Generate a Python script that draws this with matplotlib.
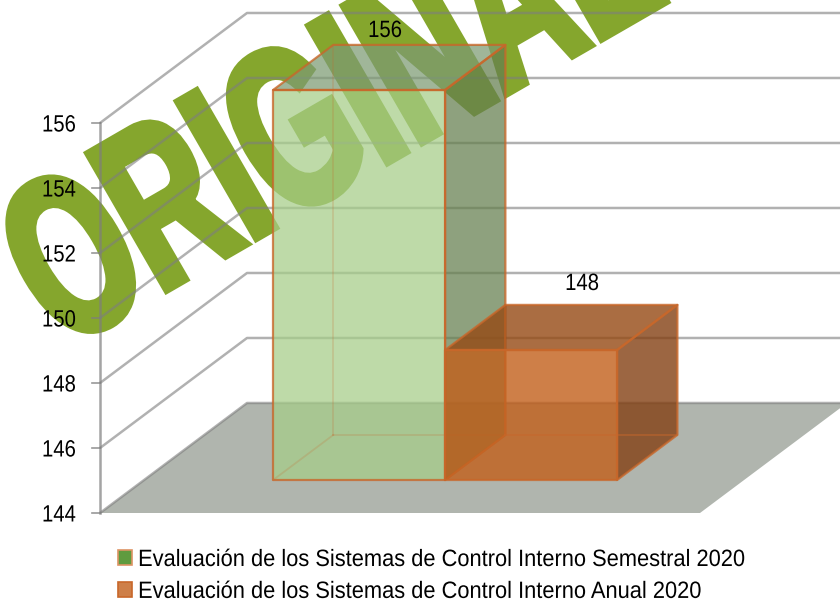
#!/usr/bin/env python3
# -*- coding: utf-8 -*-
import matplotlib
matplotlib.use('Agg')
import matplotlib.pyplot as plt
from matplotlib.patches import Polygon, Patch
from matplotlib.patheffects import AbstractPathEffect
from matplotlib.transforms import Affine2D

## datos
valores = [156, 148]
series = ['Evaluación de los Sistemas de Control Interno Semestral 2020',
          'Evaluación de los Sistemas de Control Interno Anual 2020']
ticks = [144, 146, 148, 150, 152, 154, 156]
marca = 'ORIGINAL'

## colores (frente, lado, arriba)
col_verde = ('#A6CD88', '#657F4E', '#7D9B74')
col_naranja = ('#C25F1A', '#834013', '#954913')
alfa = [0.73, 0.8]
col_borde = '#C8672A'
col_grid = '#7E7E7E'

## "perspectiva" : 600 px par unite en x, 32.5 px par unite en y
dx_fondo = 0.245
dv_fondo = 3.385
y_base = 144
prof = (0.30, 0.71)
ancho = 0.2867
x_ini = 0.215


class Encoger(AbstractPathEffect):
    # texto mas estrecho, con trazo opcional
    def __init__(self, sx, lw=0):
        super().__init__()
        self.sx = sx
        self.lw = lw

    def draw_path(self, renderer, gc, tpath, affine, rgbFace=None):
        gc2 = renderer.new_gc()
        gc2.copy_properties(gc)
        gc2.set_linewidth(self.lw)
        gc2.set_joinstyle('miter')
        if rgbFace is not None:
            gc2.set_foreground(rgbFace)
        renderer.draw_path(gc2, tpath, Affine2D().scale(self.sx, 1) + affine, rgbFace)
        gc2.restore()


def proy(x, v, d):
    return (x + d * dx_fondo, v + d * dv_fondo)


plt.rcParams['font.family'] = ['Liberation Sans', 'DejaVu Sans']

fig = plt.figure(figsize=(8.4, 6.02), dpi=100)
ax = fig.add_axes([0, 0, 1, 1])
ax.set_xlim(-100 / 600, 740 / 600)
ax.set_ylim(144 - 89 / 32.5, 144 + 513 / 32.5)
ax.axis('off')

## marca de agua
fig.text(62 / 840, 1 - 350 / 602, marca, fontsize=164, fontweight='bold', color='#85A62D',
         rotation=30, rotation_mode='anchor', ha='left', va='baseline', zorder=-1,
         path_effects=[Encoger(0.63, 6)])

## suelo
ax.add_patch(Polygon([proy(0, y_base, 0), proy(1, y_base, 0), proy(1, y_base, 1), proy(0, y_base, 1)],
                     closed=True, fc='#B0B5AE', ec='none', zorder=1))

## rejilla
for t in ticks:
    xs = [0, dx_fondo, 1 + dx_fondo]
    ys = [t, t + dv_fondo, t + dv_fondo]
    ax.plot(xs, ys, color=col_grid, alpha=0.6, lw=1.8, zorder=2, solid_capstyle='butt')
    ax.plot([-8 / 600, 0], [t, t], color=col_grid, alpha=0.8, lw=1.2, zorder=2)
    ax.text(-58 / 600, t - 2.5 / 32.5, str(t), fontsize=17, color='black', ha='left', va='center',
            zorder=6, path_effects=[Encoger(0.86)])
ax.plot([0, 0], [ticks[0], ticks[-1]], color=col_grid, alpha=0.7, lw=1.8, zorder=2)


## barras
def barra(x0, val, cols, a, z, a_fondo):
    x1 = x0 + ancho
    d0, d1 = prof
    kw = dict(closed=True, alpha=a, ec='none', zorder=z)
    lado = [proy(x1, y_base, d0), proy(x1, y_base, d1), proy(x1, val, d1), proy(x1, val, d0)]
    arriba = [proy(x0, val, d0), proy(x1, val, d0), proy(x1, val, d1), proy(x0, val, d1)]
    frente = [proy(x0, y_base, d0), proy(x1, y_base, d0), proy(x1, val, d0), proy(x0, val, d0)]
    ax.add_patch(Polygon(lado, fc=cols[1], **kw))
    ax.add_patch(Polygon(arriba, fc=cols[2], **kw))
    ax.add_patch(Polygon(frente, fc=cols[0], **kw))
    ## aristas del fondo, mas suaves
    for a0, a1 in [((x0, y_base, d0), (x0, y_base, d1)), ((x0, y_base, d1), (x1, y_base, d1)),
                   ((x0, y_base, d1), (x0, val, d1))]:
        p = [proy(*a0), proy(*a1)]
        ax.plot([p[0][0], p[1][0]], [p[0][1], p[1][1]], color=col_borde, alpha=a_fondo, lw=1.3, zorder=z)
    for cara in (lado, arriba, frente):
        ax.add_patch(Polygon(cara, closed=True, fc='none', ec=col_borde, lw=1.6, alpha=0.8,
                             joinstyle='round', zorder=z + 0.5))


barra(x_ini, valores[0], col_verde, alfa[0], 3, 0.2)
barra(x_ini + ancho, valores[1], col_naranja, alfa[1], 4, 0.5)

## etiquetas
desp = [(95, 59), (120, 66)]  # px desde la esquina del frente
for i, val in enumerate(valores):
    x0 = x_ini + i * ancho
    ax.annotate(str(val), xy=proy(x0, val, prof[0]), xytext=(desp[i][0] * 0.72, desp[i][1] * 0.72),
                textcoords='offset points', fontsize=17, ha='left', va='center', zorder=6,
                path_effects=[Encoger(0.86)])

## leyenda
handles = [Patch(fc='#5F9B3F', ec='#DD9465', lw=1.2), Patch(fc='#CE7F48', ec=col_borde, lw=1.2)]
leg = ax.legend(handles, series, loc='upper left', bbox_to_anchor=(118 / 840, 1 - 549 / 602),
                frameon=False, fontsize=17, handlelength=0.6, handleheight=0.6,
                handletextpad=0.25, labelspacing=0.42, borderpad=0, borderaxespad=0)
for t in leg.get_texts():
    t.set_path_effects([Encoger(0.925)])

fig.savefig('out.png', dpi=100)
